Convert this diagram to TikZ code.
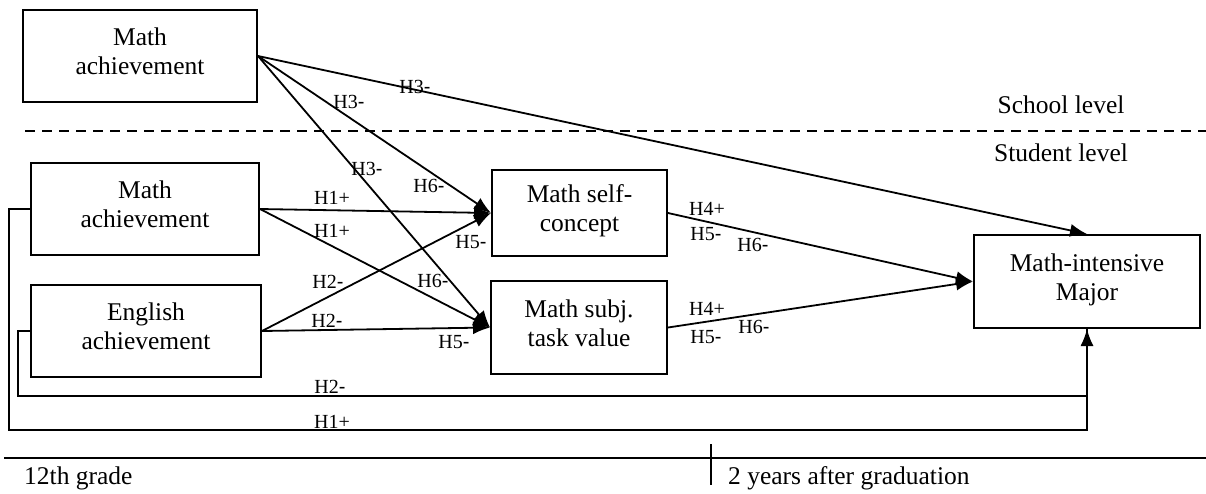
\documentclass[tikz,border=0pt]{standalone}
\usepackage{fontspec}
\setmainfont{Liberation Serif}
\newfontfamily\arialf{Liberation Sans}
\usetikzlibrary{arrows.meta}
\newcommand{\mn}{{\arialf -}}
\begin{document}
\begin{tikzpicture}[x=1pt,y=-1pt,
  box/.style={draw,line width=2pt,align=center,font=\fontsize{25.5}{29}\selectfont,inner sep=0pt,text depth=9pt},
  conn/.style={line width=1.8pt,-{Latex[length=17pt,width=13pt]}},
  loopline/.style={line width=1.5pt},
  lab/.style={font=\fontsize{20}{22}\selectfont,inner sep=0pt},
  big/.style={font=\fontsize{25.5}{29}\selectfont,inner sep=0pt}]
\useasboundingbox (0,0) rectangle (1206,493);
% boxes
\node[box,minimum width=234pt,minimum height=92pt] (A) at (140,56) {Math\\achievement};
\node[box,minimum width=228pt,minimum height=92pt] (B) at (145,209) {Math\\achievement};
\node[box,minimum width=230pt,minimum height=92pt] (C) at (146,331) {English\\achievement};
\node[box,minimum width=175pt,minimum height=86pt] (D) at (579.5,213) {Math self-\\concept};
\node[box,minimum width=176pt,minimum height=93pt] (E) at (579,327.5) {Math subj.\\task value};
\node[box,minimum width=226pt,minimum height=93pt] (F) at (1087,281.5) {Math-intensive\\Major};
% level separator
\coordinate (dl) at (25,131);
\coordinate (dr) at (1206,131);
\draw[line width=1.5pt,dash pattern=on 10pt off 7pt] (dl) -- (dr);
\node[big] (sch) at (1061,105) {School level};
\node[big] (stu) at (1061,153) {Student level};
% connectors
\draw[conn] (A.east) -- (F.north);
\draw[conn] (A.east) -- (D.west);
\draw[conn] (A.east) -- (E.west);
\draw[conn] (B.east) -- (D.west);
\draw[conn] (B.east) -- (E.west);
\draw[conn] (C.east) -- (D.west);
\draw[conn] (C.east) -- (E.west);
\draw[conn] (D.east) -- (F.west);
\draw[conn] (E.east) -- (F.west);
\coordinate (c1) at (18,396);
\coordinate (b1) at (9,430);
\draw[loopline] (B.west) -| (b1) -| (F.south);
\draw[loopline,-{Latex[length=17pt,width=13pt]}] (C.west) -| (c1) -| (F.south);
% labels
\node[lab] (l1) at (415,87) {H3\mn};
\node[lab] (l2) at (349,102) {H3\mn};
\node[lab] (l3) at (367,169) {H3\mn};
\node[lab] (l4) at (429,186) {H6\mn};
\node[lab] (l5) at (332,198) {H1+};
\node[lab] (l6) at (332,231) {H1+};
\node[lab] (l7) at (471,242) {H5\mn};
\node[lab] (l8) at (328,282) {H2\mn};
\node[lab] (l9) at (433,281) {H6\mn};
\node[lab] (l10) at (327,321) {H2\mn};
\node[lab] (l11) at (454,342) {H5\mn};
\node[lab] (l12) at (330,387) {H2\mn};
\node[lab] (l13) at (332,422) {H1+};
\node[lab] (l14) at (707,209) {H4+};
\node[lab] (l15) at (706,234) {H5\mn};
\node[lab] (l16) at (753,245) {H6\mn};
\node[lab] (l17) at (707,309) {H4+};
\node[lab] (l18) at (706,337) {H5\mn};
\node[lab] (l19) at (754,327) {H6\mn};
% timeline
\coordinate (tl) at (4,458);
\coordinate (tr) at (1206,458);
\coordinate (tt) at (711,444);
\coordinate (tb) at (711,485);
\draw[line width=1.5pt] (tl) -- (tr);
\draw[line width=1.5pt] (tt) -- (tb);
\node[big,anchor=west] (g12) at (24,478) {12th grade};
\node[big,anchor=west] (g2) at (728,478) {2 years after graduation};
\end{tikzpicture}
\end{document}
